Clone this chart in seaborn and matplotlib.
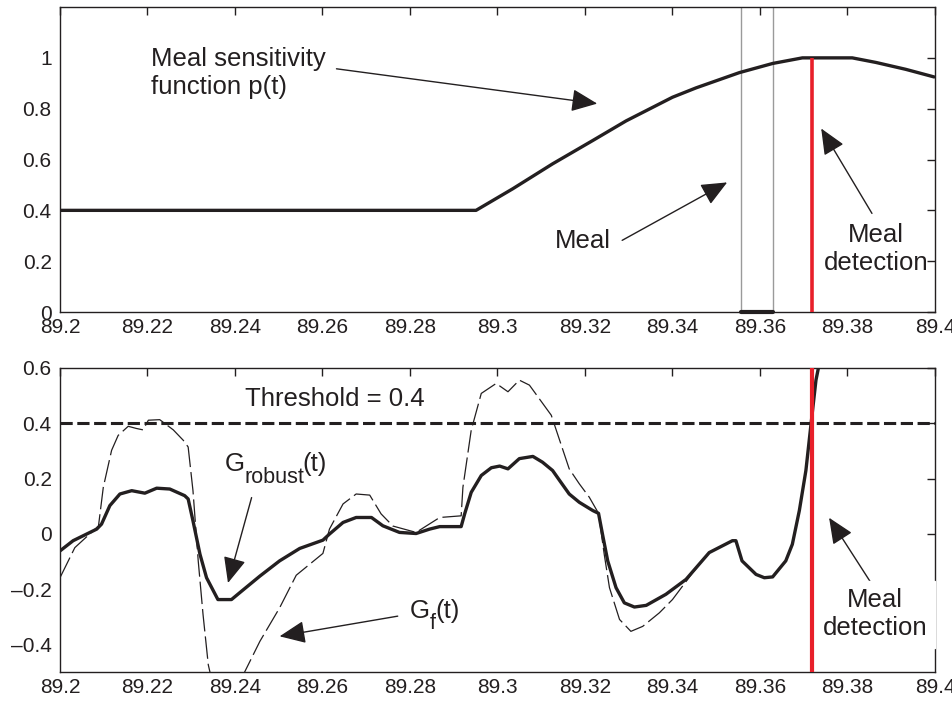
import numpy as np
import matplotlib
matplotlib.use("Agg")
import matplotlib.pyplot as plt
import seaborn as sns

# ---- data ----
# meal sensitivity function p(t), top panel
p_time = [89.2, 89.2951, 89.3035, 89.3126, 89.3218, 89.3294, 89.3400, 89.3454,
          89.3553, 89.3629, 89.3697, 89.3811, 89.3865, 89.3933, 89.3998]
p_value = [0.40, 0.40, 0.485, 0.583, 0.675, 0.752, 0.845, 0.882,
           0.942, 0.978, 1.00, 1.00, 0.982, 0.955, 0.925]

meal_start, meal_end = 89.3556, 89.3630
detection_time = 89.3718
threshold = 0.4

# G_robust(t), bottom panel (thick)
robust_time = [89.2, 89.2030, 89.2057, 89.2084, 89.2095, 89.2114, 89.2137, 89.2164,
               89.2194, 89.2221, 89.2251, 89.2285, 89.2293, 89.2304, 89.2320, 89.2335,
               89.2361, 89.2392, 89.2411, 89.2457, 89.2502, 89.2548, 89.2601, 89.2616,
               89.2647, 89.2677, 89.2712, 89.2738, 89.2776, 89.2814, 89.2845, 89.2868,
               89.2917, 89.2925, 89.2940, 89.2963, 89.2986, 89.3005, 89.3024, 89.3050,
               89.3081, 89.3103, 89.3126, 89.3142, 89.3164, 89.3187, 89.3218, 89.3231,
               89.3240, 89.3252, 89.3271, 89.3290, 89.3313, 89.3340, 89.3385, 89.3431,
               89.3484, 89.3537, 89.3545, 89.3559, 89.3591, 89.3610, 89.3629, 89.3659,
               89.3674, 89.3690, 89.3705, 89.3716, 89.3728, 89.3735, 89.3750]
robust_value = [-0.062, -0.025, -0.004, 0.017, 0.035, 0.102, 0.144, 0.156,
                0.147, 0.165, 0.162, 0.138, 0.126, 0.047, -0.074, -0.159,
                -0.238, -0.238, -0.213, -0.153, -0.098, -0.053, -0.023, -0.001,
                0.041, 0.059, 0.059, 0.029, 0.005, 0.001, 0.017, 0.026,
                0.026, 0.072, 0.150, 0.211, 0.239, 0.245, 0.235, 0.272,
                0.280, 0.259, 0.229, 0.193, 0.144, 0.114, 0.084, 0.074,
                -0.001, -0.098, -0.195, -0.250, -0.265, -0.259, -0.219, -0.165,
                -0.068, -0.025, -0.025, -0.098, -0.147, -0.159, -0.156, -0.098,
                -0.038, 0.084, 0.229, 0.387, 0.556, 0.611, 0.80]

# G_f(t), bottom panel (thin dashed)
gf_time = [89.2, 89.2034, 89.2076, 89.2088, 89.2099, 89.2118, 89.2133, 89.2156,
           89.2175, 89.2190, 89.2202, 89.2228, 89.2259, 89.2282, 89.2293, 89.2304,
           89.2316, 89.2327, 89.2339, 89.2360, 89.2390, 89.2419, 89.2457, 89.2502,
           89.2540, 89.2601, 89.2616, 89.2647, 89.2677, 89.2708, 89.2734, 89.2761,
           89.2814, 89.2837, 89.2868, 89.2917, 89.2921, 89.2940, 89.2963, 89.2997,
           89.3024, 89.3050, 89.3073, 89.3123, 89.3164, 89.3187, 89.3210, 89.3231,
           89.3244, 89.3256, 89.3279, 89.3305, 89.3332, 89.3370, 89.3400, 89.3446,
           89.3484, 89.3537, 89.3545, 89.3559, 89.3591, 89.3610, 89.3629, 89.3659,
           89.3674, 89.3690, 89.3705, 89.3716, 89.3728, 89.3735, 89.3750]
gf_value = [-0.159, -0.050, 0.011, 0.028, 0.168, 0.302, 0.356, 0.389,
            0.381, 0.376, 0.411, 0.413, 0.376, 0.338, 0.314, 0.156,
            -0.098, -0.292, -0.474, -0.62, -0.62, -0.510, -0.389, -0.268,
            -0.150, -0.071, 0.017, 0.108, 0.144, 0.140, 0.072, 0.028,
            0.005, 0.028, 0.059, 0.065, 0.168, 0.375, 0.508, 0.544,
            0.514, 0.556, 0.538, 0.429, 0.235, 0.181, 0.132, 0.074,
            -0.074, -0.195, -0.310, -0.353, -0.335, -0.286, -0.238, -0.141,
            -0.068, -0.025, -0.025, -0.098, -0.147, -0.159, -0.156, -0.098,
            -0.038, 0.084, 0.229, 0.387, 0.556, 0.611, 0.80]

x_ticks = [89.2, 89.22, 89.24, 89.26, 89.28, 89.3, 89.32, 89.34, 89.36, 89.38, 89.4]
x_labels = ["89.2", "89.22", "89.24", "89.26", "89.28", "89.3",
            "89.32", "89.34", "89.36", "89.38", "89.4"]
top_y_ticks = [0, 0.2, 0.4, 0.6, 0.8, 1]
top_y_labels = ["0", "0.2", "0.4", "0.6", "0.8", "1"]
bot_y_ticks = [-0.4, -0.2, 0, 0.2, 0.4, 0.6]
bot_y_labels = ["\u20130.4", "\u20130.2", "0", "0.2", "0.4", "0.6"]

INK = "#231f20"
RED = "#e8202a"

sns.set_theme(style="white")
plt.rcParams["font.family"] = ["Liberation Sans", "DejaVu Sans"]
plt.rcParams["axes.edgecolor"] = INK
plt.rcParams["axes.linewidth"] = 1.0


def style_axis(ax, ylim, yticks, ylabels):
    ax.set_xlim(89.2, 89.4)
    ax.set_ylim(*ylim)
    ax.set_xticks(x_ticks)
    ax.set_xticklabels(x_labels)
    ax.set_yticks(yticks)
    ax.set_yticklabels(ylabels)
    ax.set_xlabel("")
    ax.set_ylabel("")
    ax.tick_params(direction="in", length=6, width=1, top=True, right=True,
                   labelsize=15, colors=INK)
    ax.tick_params(axis="x", pad=4)
    ax.tick_params(axis="y", pad=6)
    for s in ax.spines.values():
        s.set_color(INK)
        s.set_linewidth(1.0)


def arrow(ax, tail, head):
    ax.annotate("", xy=head, xytext=tail,
                arrowprops=dict(arrowstyle="-|>,head_length=0.8,head_width=0.35",
                                mutation_scale=20, lw=1.0, color=INK,
                                shrinkA=0, shrinkB=0))


fig = plt.figure(figsize=(9.52, 7.04), dpi=100)
ax1 = fig.add_axes([0.0630, 0.5568, 0.9191, 0.4332])
ax2 = fig.add_axes([0.0630, 0.0455, 0.9191, 0.4318])

# ---- top panel ----
ax1.axvline(meal_start, color="#9a9a9a", lw=1.0)
ax1.axvline(meal_end, color="#9a9a9a", lw=1.0)
ax1.plot([meal_start, meal_end], [0, 0], color=INK, lw=3, clip_on=False, zorder=4)
sns.lineplot(x=p_time, y=p_value, ax=ax1, color=INK, linewidth=2.4,
             estimator=None, sort=False)
ax1.vlines(detection_time, 0, 1.0, color=RED, lw=2.6, zorder=5)
style_axis(ax1, (0, 1.2), top_y_ticks, top_y_labels)

# multi-line texts: va="baseline" anchors the last line
ax1.text(89.2209, 0.858, "Meal sensitivity\nfunction p(t)", fontsize=18.5,
         color=INK, ha="left", va="baseline")
arrow(ax1, (89.2632, 0.957), (89.3228, 0.820))
ax1.text(89.3132, 0.251, "Meal", fontsize=18.5, color=INK, ha="left", va="baseline")
arrow(ax1, (89.3285, 0.282), (89.3525, 0.510))
ax1.text(89.3866, 0.165, "Meal\ndetection", fontsize=18.5, color=INK,
         ha="center", va="baseline", multialignment="center")
arrow(ax1, (89.3856, 0.388), (89.3740, 0.722))

# ---- bottom panel ----
ax2.axhline(threshold, color=INK, lw=2.2, dashes=(4, 1.5))
sns.lineplot(x=gf_time, y=gf_value, ax=ax2, color=INK, linewidth=0.9,
             estimator=None, sort=False)
ax2.lines[-1].set_dashes([18, 4])
sns.lineplot(x=robust_time, y=robust_value, ax=ax2, color=INK, linewidth=2.4,
             estimator=None, sort=False)
ax2.axvline(detection_time, color=RED, lw=3.0, zorder=5)
style_axis(ax2, (-0.5, 0.6), bot_y_ticks, bot_y_labels)

ax2.text(89.2422, 0.462, "Threshold = 0.4", fontsize=18.5, color=INK,
         ha="left", va="baseline")
# G_robust(t): subscript set as its own smaller text
ax2.text(89.2377, 0.229, "G", fontsize=18.5, color=INK, ha="left", va="baseline")
ax2.text(89.2422, 0.185, "robust", fontsize=15.5, color=INK, ha="left", va="baseline")
ax2.text(89.2555, 0.229, "(t)", fontsize=18.5, color=INK, ha="left", va="baseline")
arrow(ax2, (89.2438, 0.131), (89.2384, -0.178))
# G_f(t)
ax2.text(89.2799, -0.305, "G", fontsize=18.5, color=INK, ha="left", va="baseline")
ax2.text(89.2845, -0.345, "f", fontsize=15.5, color=INK, ha="left", va="baseline")
ax2.text(89.2857, -0.305, "(t)", fontsize=18.5, color=INK, ha="left", va="baseline")
arrow(ax2, (89.2772, -0.298), (89.2502, -0.371))
ax2.text(89.3863, -0.367, "Meal\ndetection", fontsize=18.5, color=INK,
         ha="center", va="baseline", multialignment="center", zorder=6,
         bbox=dict(boxstyle="square,pad=0.3", fc="white", ec="white", lw=1))
arrow(ax2, (89.3854, -0.178), (89.3758, 0.058))

fig.savefig("out.png", dpi=100)
